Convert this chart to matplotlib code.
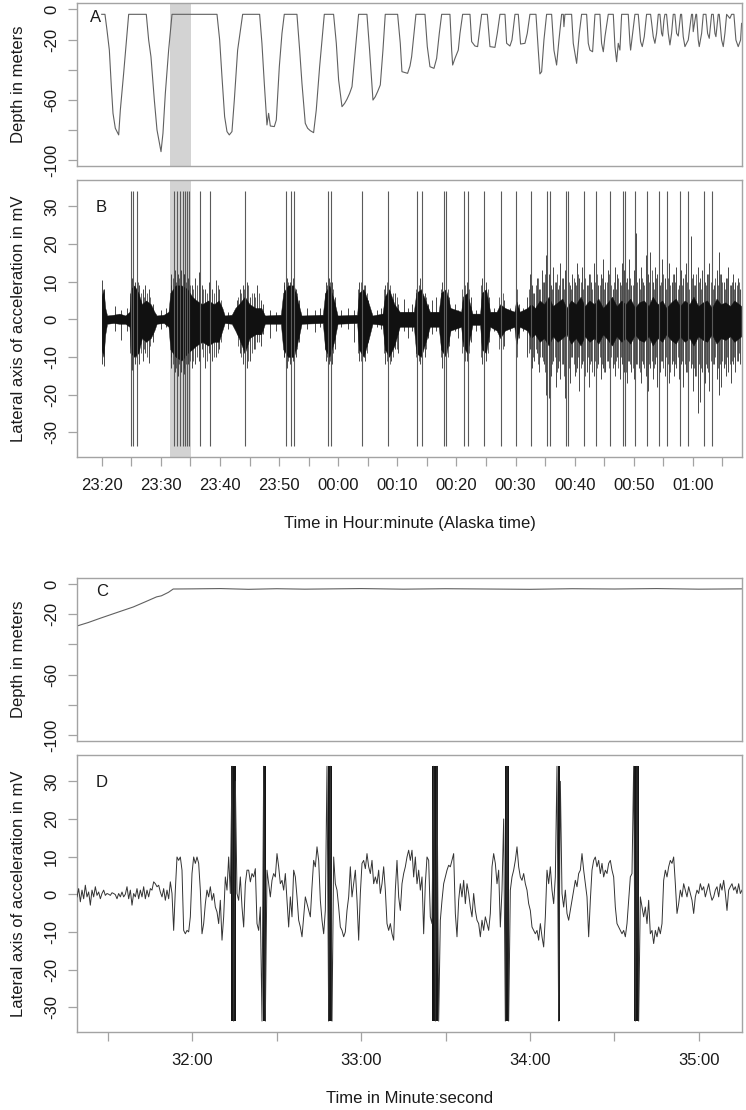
import numpy as np
import matplotlib
matplotlib.use("Agg")
import matplotlib.pyplot as plt

plt.rcParams['font.family'] = ['Liberation Sans', 'DejaVu Sans']

# ---------------- Panel A: depth profile (minutes after 23:20, metres) -------------
depth_t = [0.0, 0.55, 0.89, 1.29, 1.63, 1.91, 2.3, 2.87, 3.15, 3.71,
           4.56, 7.54, 7.94, 8.33, 8.9, 9.35, 10.03, 10.36, 10.76, 11.32,
           11.89, 19.5, 19.95, 20.34, 20.79, 21.19, 21.58, 22.03, 22.43, 22.99,
           23.84, 26.71, 27.1, 27.5, 27.95, 28.23, 28.52, 29.19, 29.53, 30.04,
           30.49, 30.88, 33.02, 33.48, 33.87, 34.43, 34.83, 35.28, 35.84, 36.29,
           36.86, 37.65, 39.22, 39.68, 40.07, 40.64, 41.09, 41.48, 41.93, 42.33,
           42.89, 43.45, 44.86, 45.31, 45.88, 46.27, 46.67, 47.12, 47.57, 47.96,
           50.05, 50.22, 50.5, 50.78, 51.74, 52.14, 52.42, 53.15, 54.68, 55.07,
           55.52, 56.2, 56.65, 57.1, 57.5, 58.9, 59.19, 59.36, 59.75, 60.31,
           60.6, 61.05, 62.29, 62.57, 63.13, 63.58, 63.86, 64.26, 65.22, 65.67,
           66.51, 66.91, 67.36, 68.21, 68.49, 69.05, 69.39, 69.9, 70.46, 70.85,
           71.59, 71.98, 72.43, 73.45, 73.84, 74.12, 74.41, 74.8, 75.25, 76.1,
           76.49, 76.94, 77.34, 77.79, 78.07, 78.18, 78.35, 79.48, 79.76, 80.33,
           80.78, 81.17, 82.02, 82.3, 82.58, 83.03, 83.43, 84.27, 84.55, 84.84,
           85.12, 85.68, 86.53, 86.81, 87.09, 87.37, 87.65, 87.94, 89.06, 89.35,
           89.46, 89.74, 90.19, 90.75, 91.15, 91.43, 91.77, 92.16, 92.84, 93.29,
           93.57, 93.85, 94.14, 94.42, 94.7, 94.87, 95.1, 95.26, 95.54, 95.83,
           96.11, 96.39, 96.67, 96.95, 97.24, 97.52, 97.91, 98.08, 98.36, 98.65,
           99.21, 99.77, 99.94, 100.05, 100.5, 100.62, 100.9, 101.07, 101.47, 101.75,
           102.2, 102.48, 102.76, 103.16, 103.44, 103.72, 103.89, 104.28, 104.45, 104.85,
           105.13, 105.41, 105.7, 106.25, 106.54, 106.93, 107.27, 107.66, 108.06, 108.23]
depth_m = [-3.3, -3.3, -13.7, -27.0, -51.3, -68.9, -78.8, -83.2, -66.7, -42.4,
           -3.3, -3.3, -20.3, -31.4, -60.1, -79.9, -94.3, -82.1, -55.7, -27.0,
           -3.3, -3.3, -20.3, -44.6, -71.1, -81.0, -83.2, -81.0, -60.1, -27.0,
           -3.3, -3.3, -22.5, -49.0, -76.6, -68.9, -77.3, -77.7, -73.3, -38.0,
           -15.9, -3.3, -3.3, -27.0, -49.0, -75.5, -78.8, -80.4, -81.7, -66.7,
           -38.0, -3.3, -3.3, -22.5, -46.8, -64.5, -62.3, -59.6, -55.7, -51.3,
           -27.0, -3.3, -3.3, -27.0, -60.1, -57.9, -54.5, -50.1, -27.0, -3.3,
           -3.3, -10.4, -22.5, -41.3, -42.4, -37.6, -31.4, -3.3, -3.3, -24.7,
           -38.0, -39.1, -32.5, -15.9, -3.3, -3.3, -27.0, -36.9, -32.5, -27.0,
           -15.9, -3.3, -3.3, -21.4, -24.3, -24.7, -15.9, -3.3, -3.3, -24.7,
           -25.2, -15.9, -3.3, -3.3, -22.5, -24.3, -20.3, -3.3, -3.3, -23.0,
           -22.5, -15.9, -3.3, -3.3, -27.0, -42.8, -41.3, -20.3, -3.3, -3.3,
           -27.0, -36.9, -20.3, -3.3, -3.3, -11.5, -3.3, -3.3, -22.5, -35.8,
           -15.9, -3.3, -3.3, -22.5, -27.0, -28.1, -3.3, -3.3, -22.5, -28.1,
           -18.1, -3.3, -3.3, -24.7, -34.7, -22.5, -27.0, -3.3, -3.3, -22.5,
           -27.0, -18.1, -3.3, -3.3, -21.4, -24.7, -18.1, -3.3, -3.3, -18.1,
           -22.5, -15.9, -3.3, -3.3, -15.9, -17.7, -7.1, -3.3, -3.3, -15.9,
           -23.6, -15.9, -3.3, -3.3, -15.9, -17.7, -3.3, -3.3, -18.1, -24.7,
           -20.3, -3.3, -3.3, -14.8, -3.3, -3.3, -20.3, -24.7, -15.9, -3.3,
           -3.3, -15.9, -19.2, -3.3, -3.3, -15.9, -18.1, -3.3, -3.3, -20.3,
           -24.7, -15.9, -3.3, -6.0, -3.3, -3.3, -20.3, -24.7, -20.3, -9.3]

# ---------------- Panel B: lateral acceleration (minutes after 23:20, mV) ----------
spike_t = [4.96, 5.24, 6.02, 12.28, 12.68, 13.24, 13.70, 14.14, 14.48, 14.76,
           16.62, 18.37, 24.24, 31.17, 31.96, 32.57, 38.22, 38.78, 43.97, 48.42,
           53.37, 54.17, 57.9, 58.3, 61.27, 61.95, 64.65, 67.48, 70.0, 72.65,
           75.31, 75.76, 78.57, 78.86, 81.57, 83.65, 86.02, 88.16, 88.44, 90.24,
           92.27, 94.25, 95.55, 97.75, 99.2, 101.86, 103.2]
spike_top = 34.2
spike_bottom = -33.7

core_t = [0.0, 0.3, 0.6, 0.9, 2.0, 3.0, 4.0, 4.7, 4.9, 5.5, 6.2, 6.8, 7.5, 8.3, 8.9,
          9.3, 10.5, 11.3, 11.6, 12.5, 13.5, 14.5, 15.3, 16.0, 17.0, 18.0, 19.0, 19.8,
          20.4, 20.8, 22.0, 22.6, 23.2, 24.2, 25.0, 26.0, 27.0, 27.6, 30.3, 30.7, 31.5,
          32.5, 33.3, 33.8, 37.4, 37.8, 38.5, 39.3, 39.9, 43.2, 43.5, 44.3, 45.2, 45.8,
          47.5, 47.9, 48.6, 49.5, 50.4, 52.8, 53.2, 54.0, 55.0, 55.5, 57.0, 57.4, 58.2,
          59.0, 60.8, 61.1, 61.8, 62.7, 64.0, 64.3, 65.0, 65.7, 66.8, 67.4, 68.2, 69.8,
          70.1, 70.7, 72.0,
          72.6, 73.3, 74.1, 74.8, 75.6, 76.3, 77.1, 77.9, 78.6, 79.4, 80.2, 81.0,
          81.7, 82.5, 83.3, 84.0, 84.8, 85.6, 86.3, 87.1, 87.9, 88.6, 89.4, 90.2,
          90.9, 91.7, 92.5, 93.2, 94.0, 94.8, 95.5, 96.3, 97.1, 97.8, 98.6, 99.4,
          100.1, 100.9, 101.7, 102.4, 103.2, 104.0, 104.7, 105.5, 106.3, 107.0, 107.8, 108.2]
core_hi = [6, 8, 3, 1, 1.2, 1.5, 1, 2, 8, 9, 7, 4, 5, 4, 2,
           1, 1.2, 2, 7, 9, 9, 8, 6, 5, 4, 5, 4, 5,
           3, 1, 1.2, 3, 4, 6, 4, 3, 3, 1, 1.2, 7, 9,
           9, 4, 1, 1.2, 7, 9, 5, 1, 1.2, 7, 8, 4, 1,
           1.5, 6, 8, 4, 2, 2, 7, 8, 4, 2, 2, 7, 8,
           3, 2, 6, 7, 1.5, 1.5, 7, 8, 2, 2, 4, 3, 2,
           5, 2, 3,
           4, 3, 5, 4, 6, 3.5, 4.5, 5.5, 3, 5, 4, 6,
           3.5, 5, 4, 5.5, 3, 4.5, 6, 3.5, 5, 4, 5.5, 3,
           4.5, 5, 3.5, 6, 4, 5, 3, 4.5, 5.5, 3.5, 5, 4,
           6, 3.5, 4.5, 5, 3, 5.5, 4, 4.5, 3.5, 5, 4, 3.5]
core_lo = [-8, -10, -4, -1.2, -1, -1.2, -1.2, -2, -9, -10, -9, -5, -6, -5, -3,
           -1.2, -1, -2, -8, -10, -11, -9, -8, -7, -6, -7, -6, -6,
           -3, -1, -1.2, -3, -5, -9, -5, -4, -4, -1.2, -1.2, -8, -10,
           -10, -5, -1.2, -1, -8, -10, -6, -1.2, -1, -8, -10, -5, -1.2,
           -1.5, -8, -10, -7, -2, -2, -9, -10, -5, -2, -2, -8, -10,
           -3, -2, -7, -9, -1.5, -1.5, -8, -9, -2, -3, -5, -3, -2,
           -7, -2, -3,
           -5, -4, -6, -5, -7, -4.5, -6, -5, -4, -6.5, -5, -7,
           -4.5, -6, -5, -6.5, -4, -5.5, -7, -4.5, -6, -5, -6.5, -4,
           -5.5, -6, -4.5, -7, -5, -6, -4, -5.5, -6.5, -4.5, -6, -5,
           -7, -4.5, -5.5, -6, -4, -6.5, -5, -5.5, -4.5, -6, -5, -4.5]

strand_t = [0.1, 0.35, 2.3, 3.3, 4.2, 5.1, 5.6, 6.3, 6.9, 7.4,
            8.0, 8.6, 10.0, 10.9, 11.8, 12.4, 12.9, 13.4, 14.0, 14.6,
            15.2, 15.8, 16.4, 16.9, 17.5, 18.1, 18.7, 19.3, 19.9, 21.3,
            22.8, 23.4, 23.9, 24.5, 25.1, 25.7, 26.3, 26.9, 27.3, 28.5,
            29.5, 30.8, 31.3, 31.8, 32.3, 32.9, 33.4, 34.8, 36.0, 36.9,
            37.9, 38.4, 38.9, 39.5, 40.5, 41.6, 42.6, 43.6, 44.1, 44.6,
            45.1, 46.5, 47.2, 48.0, 48.5, 49.0, 49.6, 50.1, 51.1, 51.8,
            52.5, 53.3, 53.9, 54.6, 55.2, 55.9, 56.6, 57.6, 58.2, 58.8,
            59.7, 60.3, 61.2, 61.8, 62.4, 63.3, 64.4, 65.0, 65.5, 66.3,
            67.5, 68.0, 69.0, 70.0, 70.5, 71.3,
            72.0, 72.4, 72.8, 73.2, 73.6, 74.0, 74.4, 74.8, 75.2, 75.6,
            76.0, 76.4, 76.8, 77.2, 77.6, 78.0, 78.4, 78.8, 79.2, 79.6,
            80.0, 80.4, 80.8, 81.2, 81.6, 82.0, 82.4, 82.8, 83.2, 83.6,
            84.0, 84.4, 84.8, 85.2, 85.6, 86.0, 86.4, 86.8, 87.2, 87.6,
            88.0, 88.4, 88.8, 89.2, 89.6, 90.0, 90.4, 90.8, 91.2, 91.6,
            92.0, 92.4, 92.8, 93.2, 93.6, 94.0, 94.4, 94.8, 95.2, 95.6,
            96.0, 96.4, 96.8, 97.2, 97.6, 98.0, 98.4, 98.8, 99.2, 99.6,
            100.0, 100.4, 100.8, 101.2, 101.6, 102.0, 102.4, 102.8, 103.2, 103.6,
            104.0, 104.4, 104.8, 105.2, 105.6, 106.0, 106.4, 106.8, 107.2, 107.6,
            108.0]
strand_hi = [10.5, 8, 3.5, 2.5, 3, 11, 10, 9, 8, 9,
             8, 4, 2.5, 3, 12, 13, 12, 13, 12, 11,
             9, 11, 12.5, 9, 8, 10, 8, 10.5, 8, 2,
             5, 8, 9, 10, 6, 7, 9, 5, 4, 2.5,
             2, 10, 11, 10, 11, 8, 5, 3, 2.5, 3,
             10, 11, 10, 6, 2.5, 3, 2.5, 10, 11, 9,
             5, 2.5, 3, 9, 10, 6, 7, 4, 5.5, 3,
             4, 10, 11, 7, 4, 5, 6, 10, 10, 6,
             4, 2.5, 9, 10, 6, 2.5, 11, 10, 6, 3,
             7, 5, 3, 10, 4, 3,
             6, 12, 9, 7, 11, 8, 13, 10, 17, 12,
             9, 14, 10, 8, 15, 11, 13, 16, 9, 12,
             10, 15, 11, 14, 17, 9, 12, 10, 15, 13,
             9, 12, 16, 10, 13, 11, 8, 14, 12, 10,
             15, 13, 11, 16, 9, 13, 23, 11, 14, 10,
             17, 12, 18, 10, 14, 12, 9, 16, 11, 13,
             15, 10, 12, 14, 9, 13, 11, 15, 10, 22,
             12, 9, 14, 11, 13, 10, 12, 15, 11, 9,
             13, 18, 12, 10, 11, 14, 9, 12, 10, 11,
             8]
strand_lo = [-12, -12.5, -3, -5.5, -3, -13.5, -12, -12, -11, -9,
             -11.5, -6, -2.5, -2, -13, -14, -15, -14, -14.5, -12,
             -13, -12, -11, -8, -13, -9, -11, -10, -8, -2.5,
             -4, -9, -12, -13, -11, -8, -6, -7, -4, -5,
             -3, -10, -13, -12, -11, -10, -6, -2.5, -3.5, -2,
             -11, -12, -12, -8, -2, -2.5, -6, -11, -12, -11,
             -6, -2, -2.5, -12, -14, -11, -8, -9, -3, -5,
             -3, -13, -12, -10, -5, -4, -3, -13, -12, -7,
             -3, -5, -11, -11, -6, -3, -12, -11, -6, -3,
             -10, -7, -3, -12, -5, -3,
             -10, -8, -13, -11, -9, -14, -10, -12, -20, -21,
             -15, -11, -18, -13, -16, -12, -21, -14, -17, -10,
             -15, -13, -19, -12, -16, -14, -18, -11, -15, -19,
             -12, -16, -13, -14, -11, -17, -13, -15, -10, -16,
             -12, -14, -17, -11, -14, -16, -12, -13, -17, -12,
             -15, -19, -13, -16, -12, -18, -14, -11, -15, -13,
             -17, -12, -15, -13, -16, -12, -18, -14, -16, -13,
             -19, -15, -25, -22, -14, -17, -13, -19, -15, -12,
             -16, -20, -18, -13, -15, -14, -17, -12, -14, -11,
             -12]

# second, shorter layer of strands inside the active bouts
strand2_t = [4.85, 5.35, 5.8, 6.1, 6.6, 7.15, 7.7, 8.25,
             11.7, 12.1, 12.55, 13.1, 13.85, 14.3, 14.9, 15.5, 16.1, 16.7, 17.2, 17.8,
             18.4, 19.0, 19.6, 20.2, 23.0, 23.6, 24.0, 24.8, 25.4, 26.0,
             26.6, 30.9, 31.5, 32.0, 32.6, 33.1, 37.7, 38.1, 38.65, 39.2,
             43.4, 43.85, 44.35, 44.85, 47.8, 48.25, 48.75, 49.3, 49.9, 53.1,
             53.6, 54.2, 54.9, 57.4, 57.9, 58.5, 61.0, 61.5, 62.1, 64.2,
             64.7, 65.3, 67.2, 67.8, 70.2,
             72.2, 72.6, 73.0, 73.4, 73.8, 74.2, 74.6, 75.0, 75.4, 75.8,
             76.2, 76.6, 77.0, 77.4, 77.8, 78.2, 78.6, 79.0, 79.4, 79.8,
             80.2, 80.6, 81.0, 81.4, 81.8, 82.2, 82.6, 83.0, 83.4, 83.8,
             84.2, 84.6, 85.0, 85.4, 85.8, 86.2, 86.6, 87.0, 87.4, 87.8,
             88.2, 88.6, 89.0, 89.4, 89.8, 90.2, 90.6, 91.0, 91.4, 91.8,
             92.2, 92.6, 93.0, 93.4, 93.8, 94.2, 94.6, 95.0, 95.4, 95.8,
             96.2, 96.6, 97.0, 97.4, 97.8, 98.2, 98.6, 99.0, 99.4, 99.8,
             100.2, 100.6, 101.0, 101.4, 101.8, 102.2, 102.6, 103.0, 103.4, 103.8,
             104.2, 104.6, 105.0, 105.4, 105.8, 106.2, 106.6, 107.0, 107.4, 107.8]
strand2_hi = [7, 9, 8, 10, 7, 6, 7, 6,
              9, 11, 10, 11, 12, 10, 9, 8, 9, 7, 8, 7,
              9, 7, 9, 5, 6, 7, 8, 9, 7, 6,
              7, 9, 10, 9, 10, 7, 7, 9, 10, 8,
              8, 10, 9, 7, 8, 10, 9, 7, 6, 8,
              9, 10, 6, 8, 9, 8, 8, 9, 8, 9,
              10, 8, 6, 7, 8,
              8, 10, 7, 9, 11, 8, 10, 12, 9, 11,
              8, 10, 12, 9, 11, 8, 12, 10, 8, 11,
              9, 12, 10, 8, 11, 9, 12, 8, 10, 12,
              9, 11, 8, 10, 12, 9, 10, 8, 11, 9,
              12, 10, 8, 11, 9, 12, 10, 8, 11, 9,
              12, 10, 13, 8, 11, 9, 10, 12, 8, 11,
              9, 12, 10, 8, 11, 9, 12, 10, 8, 11,
              9, 12, 10, 8, 11, 9, 12, 10, 8, 11,
              9, 12, 10, 8, 11, 9, 10, 8, 9, 10]
strand2_lo = [-9, -11, -10, -9, -9, -8, -10, -7,
              -10, -12, -13, -12, -13, -12, -11, -11, -10, -9, -10, -11,
              -8, -10, -9, -6, -7, -10, -9, -11, -9, -8,
              -6, -10, -11, -12, -10, -8, -8, -10, -11, -9,
              -9, -11, -10, -9, -9, -11, -12, -10, -8, -10,
              -11, -12, -8, -10, -12, -10, -9, -11, -9, -10,
              -11, -9, -8, -8, -10,
              -9, -12, -10, -8, -12, -10, -11, -14, -16, -13,
              -12, -10, -14, -11, -12, -15, -11, -13, -10, -12,
              -14, -10, -13, -11, -15, -10, -12, -14, -11, -13,
              -10, -12, -14, -11, -13, -10, -12, -11, -13, -10,
              -12, -14, -11, -12, -13, -10, -12, -14, -11, -13,
              -10, -12, -11, -13, -10, -12, -11, -13, -10, -12,
              -14, -11, -12, -10, -13, -11, -12, -14, -11, -12,
              -13, -15, -12, -13, -11, -12, -14, -11, -12, -10,
              -13, -12, -11, -12, -10, -12, -11, -10, -11, -9]

shade_t = [11.5, 15.05]   # highlighted interval (minutes after 23:20)

hm_ticks = [0, 5, 10, 15, 20, 25, 30, 35, 40, 45, 50, 55, 60, 65, 70, 75, 80, 85,
            90, 95, 100, 105]
hm_labels = ['23:20', '', '23:30', '', '23:40', '', '23:50', '', '00:00', '',
             '00:10', '', '00:20', '', '00:30', '', '00:40', '', '00:50', '',
             '01:00', '']

# ---------------- Panel C: depth (seconds after 31:00, metres) ---------------------
c_t = [19.0, 23.0, 27.2, 33.0, 39.0, 43.0, 47.3, 49.0, 51.5, 53.2, 60, 70, 80, 90,
       100, 110, 120, 135, 150, 165, 180, 195, 210, 225, 240, 255.4]
c_m = [-27.8, -25.5, -22.7, -19.0, -15.2, -12.0, -8.5, -7.8, -5.5, -3.3, -3.2, -3.0,
       -3.5, -3.1, -3.4, -3.2, -3.0, -3.4, -3.1, -3.3, -3.5, -3.1, -3.3, -3.0, -3.4, -3.2]

# ---------------- Panel D: lateral acceleration (seconds after 31:00, mV) ----------
d_start, d_end = 19.0, 255.4
d_val = [-0.7, 1.5, -2.0, 1.1, -1.2, 2.4, -0.7, 0.6, -2.9, 1.1, -0.7, 2.0, -0.3, 0.6, -1.2, 0.2, 1.1, -0.3, 0.2, 0.0,
         -0.3, 0.4, 0.2, -0.1, -1.2, 0.2, -0.7, 0.6, -0.7, 0.0, 2.0, -1.2, 1.1, -2.9, 0.2, -0.7, 1.5, -1.2, 1.1, -0.7,
         2.0, -1.2, 1.1, -0.7, 1.5, 1.1, 3.3, 2.8, 2.0, 2.4, 0.6, -0.7, 1.5, -1.6, 1.1, -1.2, 3.3, 0.2, -9.6, 1.1,
         9.9, 9.0, 9.9, 6.4, -9.6, -10.5, -9.6, -10.0, -6.0, 5.5, 9.9, 8.2, 9.9, 8.2, 1.1, -10.5, -7.8, -2.5, 1.1, -0.7,
         2.0, -1.6, 0.2, -3.4, -4.7, -7.8, -1.6, -12.2, -6.0, 4.6, 1.1, 9.9, 0.2, 34, -33.7, 30, 0.2, -1.6, 4.6, -3.4,
         -8.7, 2.8, 6.4, 6.4, 3.3, 5.5, 4.6, 6.8, -7.8, -9.6, -3.4, -33.7, 34, -33.7, 6.4, 2.8, -0.7, 3.7, 5.5, 4.6,
         10.8, 7.3, 2.8, 3.7, 1.1, 5.5, -1.6, -8.7, -0.7, -6.0, 6.4, 4.6, -0.7, -6.9, -8.7, -11.3, -6.0, -0.7, -2.5, -4.3,
         -6.0, 2.0, 9.0, 7.3, 12.6, 9.0, -1.6, -6.9, -10.5, -4.3, 34, -33.7, 34, -33.7, 9.9, 2.8, 1.1, -3.4, -8.7, -9.6,
         -11.3, -10.0, -4.3, -0.7, 7.3, -0.7, 2.8, 6.4, -1.6, -12.2, 0.2, 8.2, 9.0, 6.8, 10.8, 7.3, 5.5, 9.0, 2.8, 4.6,
         2.8, 6.4, 0.2, 2.8, 7.3, 1.1, -7.8, -9.6, -7.8, -10.5, -12.2, 1.1, 9.0, -0.7, -4.3, 2.8, 5.5, 7.3, 9.9, 11.7,
         9.0, 11.7, 4.6, 9.9, 2.8, 6.4, 1.1, 4.6, -10.5, 2.8, 9.9, 9.0, -6.0, -7.8, 34, -33.7, 34, -33.7, -6.9, -1.6,
         2.8, 4.6, 6.4, 7.7, 7.3, 9.0, 10.8, -5.1, -11.3, -1.6, 2.8, -0.7, 3.7, -2.5, 2.8, 0.2, -3.4, -6.0, 0.2, -4.3,
         -6.9, -7.8, -11.3, -6.9, -9.6, -6.0, -7.8, -9.6, -5.1, 7.3, 10.8, 8.2, 2.8, 6.4, -8.7, 1.1, 20, -33.7, 34, -33.7,
         1.1, 4.6, 6.4, 9.0, 12.6, 7.3, 4.6, 3.7, 5.5, 2.8, 1.1, -2.5, -4.3, -8.7, -9.6, -10.5, -9.6, -12.2, -7.8, -11.3,
         -14.0, -6.0, 6.4, 2.8, 7.3, 1.1, -2.5, 4.6, 34, -33.7, 30, 0.2, -3.4, 1.1, -5.1, -6.9, -4.3, -1.6, 1.1, 3.7,
         2.0, 5.5, 6.4, 10.8, 6.4, 2.8, -0.7, -11.3, -1.6, 6.4, 9.0, 9.9, 7.3, 9.0, 5.5, 8.2, 4.6, 6.4, 5.5, 8.2,
         9.0, 6.4, 4.6, -3.4, -7.8, -8.7, -9.6, -10.5, -9.6, -11.3, -7.8, -1.6, 4.6, 5.5, 34, -33.7, 34, -33.7, -0.7, -3.4,
         -6.0, -3.4, -7.8, -1.6, -10.5, -9.6, -13.1, -9.6, -11.3, -8.7, -10.5, -7.8, 3.7, 6.4, 4.6, 7.3, 9.0, 8.2, 9.9, 2.8,
         -5.1, -2.5, 1.1, -0.7, 2.8, 1.1, -0.7, 2.0, 0.2, -1.6, -5.1, -0.7, 1.1, 0.2, 2.8, 1.1, 2.0, -0.7, 1.1, 2.8,
         0.2, -1.6, -0.7, 1.1, 2.0, -0.7, 2.8, 1.1, 3.7, 0.2, -4.3, 1.1, 2.0, 2.8, 1.1, 2.0, 0.2, 2.8, 0.2, 1.1]
burst_start = [73.85, 84.95, 108.1, 145.35, 171.05, 189.85, 217.05]
burst_end = [75.45, 86.35, 109.8, 147.25, 172.45, 190.85, 218.7]

ms_ticks = [30, 60, 90, 120, 150, 180, 210, 240]
ms_labels = ['', '32:00', '', '33:00', '', '34:00', '', '35:00']

depth_ticks = [0, -20, -40, -60, -80, -100]
depth_labels = ['0', '-20', '', '-60', '', '-100']
acc_ticks = [30, 20, 10, 0, -10, -20, -30]
acc_labels = ['30', '20', '10', '0', '-10', '-20', '-30']

# ---------------- figure ----------------------------------------------------------
W, H = 746, 1110
fig = plt.figure(figsize=(W / 100, H / 100), dpi=100)

def add_ax(top, bottom, left=77, right=742):
    return fig.add_axes([left / W, 1 - bottom / H, (right - left) / W, (bottom - top) / H])

axA = add_ax(3, 166)
axB = add_ax(180, 457)
axC = add_ax(578, 741)
axD = add_ax(755, 1032)

EDGE = '#a3a3a3'
TXT = '#1a1a1a'

def style(ax):
    for s in ax.spines.values():
        s.set_color(EDGE)
        s.set_linewidth(1.0)
    ax.tick_params(direction='out', length=6.5, width=0.9, color=EDGE,
                   labelsize=12, labelcolor=TXT)
    ax.tick_params(axis='y', pad=6.3)
    ax.tick_params(axis='x', pad=8.5)

def ylab(ax, text):
    ax.set_ylabel(text, fontsize=12, color=TXT)
    ax.yaxis.set_label_coords(-0.0774, 0.5)

def xlab(ax, text):
    ax.set_xlabel(text, fontsize=12, color=TXT)
    ax.xaxis.set_label_coords(0.5, -0.212)

xlimAB = (-4.18, 108.3)
xlimCD = (19.0, 255.4)

# Panel A
style(axA)
axA.axvspan(shade_t[0], shade_t[1], color='#d3d3d3', lw=0, zorder=0)
axA.plot(depth_t, depth_m, color='#606060', lw=0.8)
axA.set_xlim(*xlimAB)
axA.set_ylim(-103.8, 4.2)
axA.set_xticks([])
axA.set_yticks(depth_ticks, depth_labels, rotation=90, va='center')
ylab(axA, 'Depth in meters')
axA.text(0.0286, 0.908, 'A', transform=axA.transAxes, fontsize=12, color=TXT,
         ha='center', va='center')

# Panel B
style(axB)
axB.axvspan(shade_t[0], shade_t[1], color='#d3d3d3', lw=0, zorder=0)
axB.vlines(strand2_t, strand2_lo, strand2_hi, color='#3c3c3c', lw=0.55, zorder=2)
axB.vlines(strand_t, strand_lo, strand_hi, color='#2a2a2a', lw=0.6, zorder=2)
axB.fill_between(core_t, core_lo, core_hi, color='#111111', lw=0.3, zorder=2)
axB.vlines(spike_t, spike_bottom, spike_top, color='#5a5a5a', lw=0.8, zorder=3)
axB.set_xlim(*xlimAB)
axB.set_ylim(-36.6, 37.0)
axB.set_xticks(hm_ticks, hm_labels)
axB.set_yticks(acc_ticks, acc_labels, rotation=90, va='center')
ylab(axB, 'Lateral axis of acceleration in mV')
xlab(axB, 'Time in Hour:minute (Alaska time)')
axB.text(0.0371, 0.9007, 'B', transform=axB.transAxes, fontsize=12, color=TXT,
         ha='center', va='center')

# Panel C
style(axC)
axC.plot(c_t, c_m, color='#606060', lw=0.8)
axC.set_xlim(*xlimCD)
axC.set_ylim(-104, 4)
axC.set_xticks([])
axC.set_yticks(depth_ticks, depth_labels, rotation=90, va='center')
ylab(axC, 'Depth in meters')
axC.text(0.0376, 0.916, 'C', transform=axC.transAxes, fontsize=12, color=TXT,
         ha='center', va='center')

# Panel D
style(axD)
d_time = np.linspace(d_start, d_end, len(d_val))
for s0, s1 in zip(burst_start, burst_end):
    axD.fill_between([s0, s1], [spike_bottom, spike_bottom], [spike_top, spike_top],
                     color='#151515', lw=0, zorder=2)
axD.plot(d_time, d_val, color='#333333', lw=0.7, zorder=3)
axD.set_xlim(*xlimCD)
axD.set_ylim(-36.6, 37.0)
axD.set_xticks(ms_ticks, ms_labels)
axD.set_yticks(acc_ticks, acc_labels, rotation=90, va='center')
ylab(axD, 'Lateral axis of acceleration in mV')
xlab(axD, 'Time in Minute:second')
axD.text(0.0371, 0.9024, 'D', transform=axD.transAxes, fontsize=12, color=TXT,
         ha='center', va='center')

fig.savefig('out.png', dpi=100)
